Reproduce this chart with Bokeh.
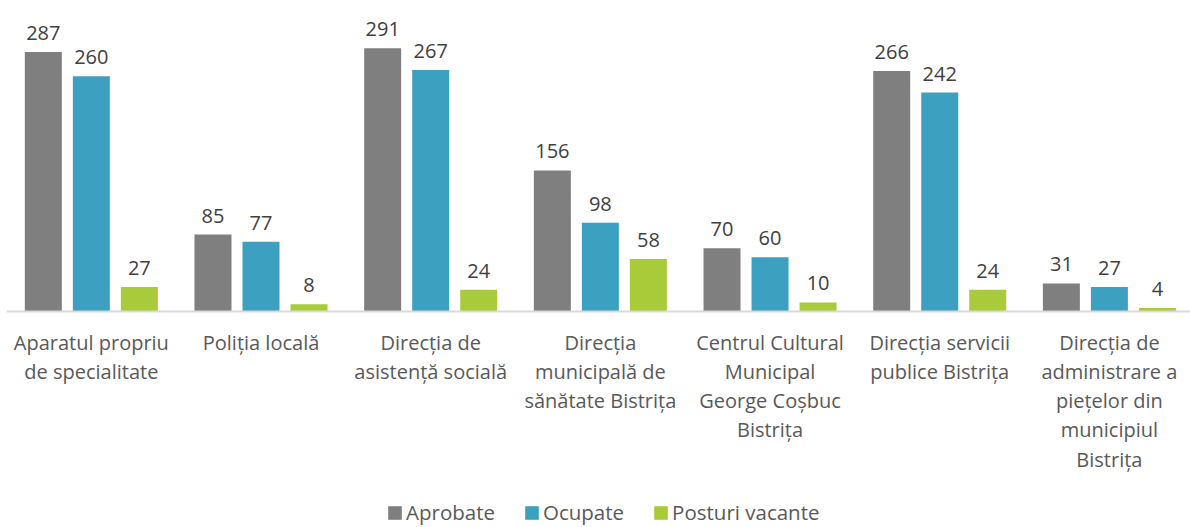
from bokeh.plotting import figure
from bokeh.models import Range1d, Legend, LegendItem, ColumnDataSource, Span
from bokeh.core.properties import value
from bokeh.embed import file_html
from bokeh.resources import INLINE

categories = [
    "Aparatul propriu\nde specialitate",
    "Poliția locală",
    "Direcția de\nasistență socială",
    "Direcția\nmunicipală de\nsănătate Bistrița",
    "Centrul Cultural\nMunicipal\nGeorge Coșbuc\nBistrița",
    "Direcția servicii\npublice Bistrița",
    "Direcția de\nadministrare a\npiețelor din\nmunicipiul\nBistrița",
]
aprobate = [287, 85, 291, 156, 70, 266, 31]
ocupate = [260, 77, 267, 98, 60, 242, 27]
vacante = [27, 8, 24, 58, 10, 24, 4]
series_names = ["Aprobate", "Ocupate", "Posturi vacante"]
colors = ["#7f7f7f", "#3ca0c0", "#a9cb3a"]

FONT = "Open Sans"
idx = list(range(len(categories)))

p = figure(frame_width=1184, frame_height=519, output_backend="svg",
           toolbar_location=None, x_range=Range1d(-0.5, 6.478),
           y_range=Range1d(-238.8, 335), y_axis_location=None,
           x_axis_location=None,
           min_border_left=6, min_border_right=0, min_border_top=8,
           min_border_bottom=0, outline_line_color=None)
p.xgrid.visible = False
p.ygrid.visible = False

# baseline (category axis line)
p.add_layout(Span(location=0, dimension="width", line_color="#d9d9d9",
                  line_width=2))

bw = 0.218
off = 0.283
items = []
for k, (vals, name, col) in enumerate(zip([aprobate, ocupate, vacante], series_names, colors)):
    dx = (k - 1) * off
    src = ColumnDataSource(dict(x=[i + dx for i in idx], top=vals,
                                lab=[str(v) for v in vals]))
    r = p.vbar(x="x", top="top", width=bw, source=src, fill_color=col,
               line_color=None)
    p.text(x="x", y="top", text="lab", source=src, text_align="center",
           text_baseline="alphabetic", y_offset=-19, text_font=value(FONT),
           text_font_size="20px", text_color="#404040")
    items.append(LegendItem(label=name, renderers=[r]))

cat_src = ColumnDataSource(dict(x=idx, y=[0] * len(idx), t=categories))
p.text(x="x", y="y", text="t", source=cat_src, text_align="center",
       text_baseline="top", y_offset=17, text_font=value(FONT),
       text_font_size="20px", text_color="#595959", text_line_height=1.085)

legend = Legend(items=items, orientation="horizontal", location=(380, 1),
                glyph_width=17, glyph_height=17, label_standoff=3, spacing=28,
                label_text_font=FONT, label_text_font_size="20.5px",
                label_text_color="#595959", border_line_color=None,
                background_fill_alpha=0, padding=0, margin=0)
p.add_layout(legend, "center")

open("out.html", "w").write(file_html(p, INLINE))
